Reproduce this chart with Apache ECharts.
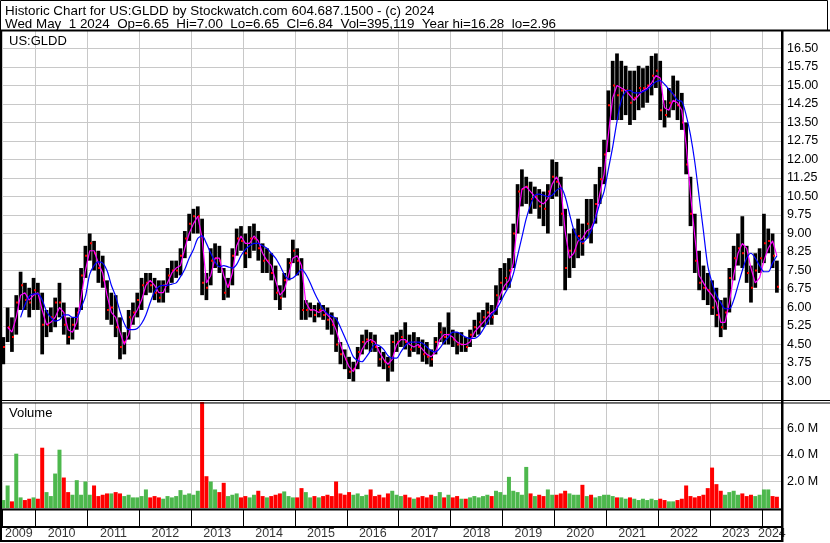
<!DOCTYPE html>
<html><head><meta charset="utf-8">
<script src="https://cdn.jsdelivr.net/npm/echarts@6/dist/echarts.min.js"></script>
<style>html,body{margin:0;padding:0;background:#fff}#c{width:830px;height:543px}</style>
</head><body><div id="c"></div>
<script>
// Monthly bars, May 2009 .. Apr 2024
const startYear = 2009, startMonth = 5;
const high = [
 4.8,6.0,5.6,6.5,7.45,7.0,6.8,7.2,
 7.0,6.6,5.9,6.0,6.4,7.0,6.2,5.6,5.6,6.0,7.6,8.5,
 9.0,8.7,8.3,8.1,7.1,6.6,6.5,5.6,5.0,5.9,6.2,6.6,
 7.2,7.4,7.4,7.2,7.1,7.1,7.6,7.9,7.9,8.4,9.1,9.8,
 10.0,10.1,9.6,7.4,8.4,8.6,8.5,7.6,7.2,8.4,9.2,9.3,
 9.0,9.3,9.4,9.1,8.6,8.4,8.2,7.7,6.9,7.4,8.0,8.75,
 8.4,8.0,6.3,6.2,6.1,6.2,6.1,6.0,5.8,5.6,4.6,4.3,
 4.0,3.8,4.4,4.9,5.1,5.0,4.9,4.4,4.2,4.0,4.9,5.0,
 5.1,5.4,4.9,5.0,4.8,4.7,4.6,4.3,4.8,5.4,5.2,5.8,
 5.1,5.0,5.0,4.8,5.1,5.5,5.8,5.9,6.2,6.1,6.9,7.6,
 7.8,8.0,9.4,11.0,11.6,11.3,11.1,10.9,10.8,10.7,11.0,12.0,
 11.9,11.3,10.0,9.0,9.2,9.6,9.4,10.4,10.4,11.0,11.7,12.8,
 14.8,16.0,16.3,16.0,15.8,15.6,15.6,15.8,15.7,15.8,16.2,16.3,
 16.0,14.4,14.9,15.4,15.2,14.7,13.5,11.3,9.8,8.3,7.7,7.4,
 7.1,6.8,6.3,6.4,7.6,8.5,9.0,9.7,8.5,7.7,8.2,8.4,
 9.8,9.2,9.0,7.9];
const low = [
 3.7,4.6,4.2,4.9,5.9,5.9,5.6,5.9,
 5.9,4.1,4.8,5.0,5.2,5.6,4.9,4.5,4.7,5.1,5.9,7.2,
 7.9,7.5,7.0,6.8,5.5,5.3,4.8,3.9,4.1,4.7,5.3,5.6,
 5.9,6.5,6.6,6.3,6.2,6.2,6.6,7.0,7.2,7.3,8.0,8.7,
 9.0,9.0,6.5,6.3,6.9,7.6,7.4,6.3,6.4,6.9,8.1,8.3,
 7.6,8.0,8.3,7.9,7.4,7.4,7.1,6.3,5.9,6.4,7.1,7.8,
 7.3,5.5,5.5,5.6,5.4,5.6,5.5,5.1,4.9,4.2,3.7,3.5,
 3.1,3.0,3.5,4.1,4.3,4.2,4.2,3.6,3.5,3.0,3.4,4.2,
 4.4,4.3,4.0,4.2,4.1,3.8,3.7,3.6,4.1,4.6,4.5,4.5,
 4.4,4.1,4.2,4.2,4.4,4.8,4.9,5.2,5.3,5.3,5.7,6.3,
 6.7,6.8,7.6,9.0,10.1,10.2,9.8,10.0,9.6,9.3,9.0,10.4,
 10.5,9.3,6.7,7.2,7.6,8.0,8.1,8.8,8.6,9.4,10.2,11.0,
 12.3,13.6,13.6,13.6,13.8,13.4,13.6,14.0,14.1,14.3,14.6,14.9,
 13.6,13.3,13.7,14.0,13.6,13.2,11.4,9.3,7.4,6.7,6.3,6.1,
 5.7,5.2,4.8,5.1,5.8,7.1,7.7,7.6,7.0,6.2,6.8,7.4,
 7.8,8.2,7.6,6.6];
const close = [
 4.4,5.2,4.8,6.2,6.9,6.3,6.2,6.7,
 6.5,5.3,5.3,5.6,6.2,6.2,5.3,4.8,5.3,5.8,7.3,8.1,
 8.6,8.2,7.6,7.1,5.9,6.0,5.2,4.4,4.6,5.6,5.8,6.3,
 6.9,7.0,6.9,6.6,6.4,6.9,7.3,7.5,7.5,8.1,8.8,9.4,
 9.7,9.7,7.0,6.8,7.9,8.0,7.9,6.6,6.9,8.1,8.8,8.7,
 8.2,8.8,8.8,8.4,7.9,7.9,7.4,6.6,6.4,7.1,7.8,8.3,
 7.9,5.9,5.9,5.9,5.7,5.9,5.7,5.5,5.3,4.5,4.1,3.9,
 3.4,3.5,4.2,4.6,4.7,4.6,4.4,3.9,3.8,3.6,4.6,4.6,
 4.8,4.6,4.3,4.6,4.4,4.1,4.0,3.9,4.6,5.0,4.8,4.9,
 4.7,4.5,4.5,4.4,4.9,5.2,5.4,5.6,5.8,5.6,6.5,7.0,
 7.2,7.5,9.0,10.7,10.8,10.9,10.4,10.5,10.1,10.0,10.7,11.3,
 11.1,9.8,7.6,8.3,8.3,8.9,8.6,9.4,9.2,10.2,11.2,12.2,
 14.2,15.0,14.6,14.8,14.8,14.3,14.5,14.9,14.9,15.0,15.4,15.6,
 14.0,13.8,14.3,14.6,14.2,13.5,11.8,9.8,7.9,7.0,6.8,6.7,
 6.0,5.7,5.2,5.8,7.2,8.0,8.4,8.2,7.4,6.8,7.5,8.0,
 8.6,8.7,8.1,6.84];
const maShort = [
 null,5.2,5.0,5.6,6.5,6.6,6.3,6.5,
 6.6,5.9,5.3,5.4,5.6,6.0,5.8,5.1,5.0,5.4,6.4,7.5,
 8.3,8.3,7.8,7.4,6.5,5.8,5.6,5.0,4.5,4.9,5.6,5.9,
 6.3,6.9,7.1,6.9,6.6,6.6,7.0,7.4,7.6,7.7,8.4,9.0,
 9.4,9.7,8.8,7.0,7.3,8.0,8.0,7.3,6.8,7.4,8.5,8.9,
 8.6,8.6,8.9,8.7,8.2,7.9,7.7,7.1,6.5,6.7,7.3,8.0,
 8.1,7.7,6.2,5.9,5.9,5.8,5.9,5.7,5.5,5.1,4.5,4.0,
 3.6,3.4,3.8,4.3,4.6,4.7,4.6,4.2,3.9,3.7,3.9,4.5,
 4.7,4.7,4.5,4.4,4.5,4.3,4.1,4.0,4.2,4.7,4.9,4.9,
 4.8,4.6,4.5,4.5,4.6,5.0,5.2,5.4,5.6,5.8,5.9,6.5,
 6.9,7.1,7.8,9.5,10.8,10.9,10.7,10.5,10.3,10.2,10.4,11.0,
 11.3,10.9,9.1,8.0,8.2,8.7,8.8,9.1,9.2,9.6,10.6,11.4,
 13.0,14.5,15.0,14.9,14.8,14.6,14.4,14.6,14.8,14.9,15.1,15.4,
 15.3,14.1,14.0,14.4,14.3,14.0,12.6,10.6,8.9,7.3,7.0,6.7,
 6.5,6.2,5.4,5.4,6.2,7.3,8.2,8.6,8.4,7.6,7.0,7.2,
 7.9,8.4,8.7,8.1];
const maLong = [
 null,null,null,null,5.6,6.1,6.45,6.55,
 6.55,6.3,5.85,5.6,5.45,5.5,5.7,5.7,5.6,5.6,6.0,6.45,
 7.35,7.7,7.85,7.8,7.5,6.9,6.45,5.85,5.35,5.1,5.1,5.15,
 5.35,5.7,6.2,6.65,6.85,6.9,6.9,6.95,7.0,7.25,7.55,8.0,
 8.35,8.8,8.9,8.6,8.2,7.85,7.65,7.7,7.65,7.6,7.75,8.1,
 8.35,8.5,8.6,8.6,8.5,8.4,8.2,8.0,7.7,7.35,7.15,7.2,
 7.35,7.55,7.35,7.0,6.6,6.25,5.95,5.75,5.65,5.55,5.2,4.8,
 4.4,4.0,3.85,3.8,4.0,4.25,4.5,4.45,4.3,4.05,3.95,3.95,
 4.2,4.45,4.6,4.6,4.6,4.55,4.4,4.25,4.2,4.35,4.6,4.8,
 5.0,5.0,4.9,4.8,4.75,4.75,4.85,5.1,5.4,5.7,5.9,6.2,
 6.55,6.85,7.35,8.1,8.85,9.6,10.15,10.55,10.6,10.55,10.5,10.55,
 10.75,10.85,10.5,9.8,9.15,8.8,8.65,8.8,9.1,9.6,10.2,10.7,
 11.6,12.5,13.55,14.4,14.75,14.8,14.7,14.7,14.75,14.85,15.0,15.15,
 15.2,15.05,14.85,14.65,14.4,14.35,13.8,13.0,11.9,10.5,9.1,7.7,
 7.0,6.5,6.2,5.95,5.95,6.3,6.9,7.5,8.0,8.2,8.0,7.7,
 7.45,7.45,7.8,8.1];
const volume = [ // millions of shares
 0.6,1.7,0.5,4.1,0.8,0.6,0.7,0.8,
 0.7,4.55,1.2,0.9,2.6,4.4,2.3,1.2,1.0,2.1,1.0,2.0,
 1.0,1.7,0.9,1.0,1.1,1.1,1.2,1.1,0.9,1.0,0.8,0.8,
 0.9,1.4,0.8,0.9,0.8,0.7,0.9,0.8,0.9,1.35,1.0,1.1,
 1.0,1.3,8.5,2.4,2.0,1.4,1.2,1.9,0.9,1.0,1.1,0.8,
 0.9,0.8,1.0,1.3,0.9,0.8,0.9,1.0,1.1,1.25,0.9,0.8,
 0.8,1.5,1.2,0.8,0.9,0.8,0.9,1.0,0.9,2.0,1.1,1.0,
 1.2,1.0,1.1,0.9,1.0,1.4,0.9,1.0,0.8,1.1,1.3,1.0,
 0.9,1.0,0.8,0.7,0.8,0.9,0.8,1.0,0.9,1.2,0.8,1.0,
 0.8,0.9,0.7,0.7,0.8,0.9,0.8,0.9,1.0,0.9,1.3,1.2,
 1.0,2.35,1.3,1.2,1.0,3.1,1.1,0.9,1.0,0.9,1.4,1.0,
 1.0,1.1,1.3,1.1,1.0,1.0,1.75,0.9,1.0,0.8,0.9,1.0,
 1.0,0.9,0.8,0.8,0.7,0.8,0.7,0.6,0.7,0.6,0.7,0.6,
 0.7,0.6,0.5,0.5,0.6,0.7,1.7,0.9,0.8,0.9,1.0,1.5,
 3.05,1.8,1.3,1.0,1.2,1.3,1.0,1.1,0.9,1.0,0.9,1.0,
 1.4,1.4,0.9,0.85];
const years = [2009,2010,2011,2012,2013,2014,2015,2016,2017,2018,2019,2020,2021,2022,2023,2024];
const priceTicks = {min: 2.25, max: 17.25, step: 0.75};
const volTicks = {min: 0, max: 8, step: 2};
const titleLine1 = 'Historic Chart for US:GLDD by Stockwatch.com 604.687.1500 - (c) 2024';
const titleLine2 = 'Wed May  1 2024  Op=6.65  Hi=7.00  Lo=6.65  Cl=6.84  Vol=395,119  Year hi=16.28  lo=2.96';
const symbolName = 'US:GLDD';

// ---- build ----
const xMin = 2009.35, xMax = 2024.39;
const xs = close.map((_, i) => startYear + (startMonth - 1 + i + 0.5) / 12);
const bars = xs.map((x, i) => [x, high[i], low[i], close[i]]);
const maS = xs.map((x, i) => [x, maShort[i]]);
const maL = xs.map((x, i) => [x, maLong[i]]);
const GREEN = '#4db84d', RED = '#ff0000';
const vol = xs.map((x, i) => ({
  value: [x, volume[i]],
  itemStyle: {color: (i === 0 || close[i] >= close[i - 1]) ? GREEN : RED}
}));
const yearLabels = years.map(y => {
  const lo = Math.max(y, xMin), hi = Math.min(y + 1, xMax);
  return {value: [(lo + hi) / 2, 0.5], name: String(y)};
});
const FONT = '"Liberation Sans", Arial, sans-serif';
const GRID = '#c8c8c8';

function xAxisCfg(idx, splitColor) {
  return {
    type: 'value', gridIndex: idx, min: xMin, max: xMax,
    splitNumber: 15, minInterval: 1, maxInterval: 1,
    axisLine: {show: false}, axisTick: {show: false}, axisLabel: {show: false},
    splitLine: {show: !!splitColor, lineStyle: {color: splitColor || GRID, width: 1}}
  };
}

const chart = echarts.init(document.getElementById('c'), null, {renderer: 'canvas'});
chart.setOption({
  animation: false,
  backgroundColor: '#ffffff',
  grid: [
    {left: 2, right: 48, top: 30, height: 370},
    {left: 2, right: 48, top: 402, height: 106},
    {left: 2, right: 48, top: 510, height: 17},
    {left: 2, right: 48, top: 527, height: 14}
  ],
  xAxis: [xAxisCfg(0, GRID), xAxisCfg(1, GRID), xAxisCfg(2, '#000'), xAxisCfg(3, null)],
  yAxis: [
    {type: 'value', gridIndex: 0, position: 'right', min: priceTicks.min, max: priceTicks.max, interval: priceTicks.step,
     axisLine: {show: false}, axisTick: {show: false},
     splitLine: {show: true, lineStyle: {color: GRID, width: 1}},
     axisLabel: {margin: 5, color: '#000', fontSize: 12.5, fontFamily: FONT,
       formatter: v => (v < 2.9 || v > 16.6) ? '' : v.toFixed(2)}},
    {type: 'value', gridIndex: 1, position: 'right', min: volTicks.min, max: volTicks.max, interval: volTicks.step,
     axisLine: {show: false}, axisTick: {show: false},
     splitLine: {show: true, lineStyle: {color: GRID, width: 1}},
     axisLabel: {margin: 5, color: '#000', fontSize: 12.5, fontFamily: FONT,
       formatter: v => (v > 0 && v < 8) ? v.toFixed(1) + ' M' : ''}},
    {type: 'value', gridIndex: 2, min: 0, max: 1, show: false},
    {type: 'value', gridIndex: 3, min: 0, max: 1, show: false}
  ],
  series: [
    {type: 'custom', xAxisIndex: 0, yAxisIndex: 0, data: bars, z: 3, clip: true,
     encode: {x: 0, y: [1, 2]},
     renderItem: (params, api) => {
       const x = api.value(0);
       const pH = api.coord([x, api.value(1)]);
       const pL = api.coord([x, api.value(2)]);
       const pC = api.coord([x, api.value(3)]);
       const w = api.size([1 / 12, 0])[0] - 0.6;
       return {type: 'group', children: [
         {type: 'rect', shape: {x: pH[0] - w / 2, y: pH[1], width: w, height: pL[1] - pH[1]}, style: {fill: '#000'}},
         {type: 'rect', shape: {x: Math.round(pC[0]), y: pC[1] - 1, width: 2, height: 2}, style: {fill: '#ff0000'}}
       ]};
     }},
    {type: 'line', xAxisIndex: 0, yAxisIndex: 0, data: maS, z: 4, showSymbol: false, symbol: 'none',
     lineStyle: {color: '#ff00ff', width: 1.2}, connectNulls: false},
    {type: 'line', xAxisIndex: 0, yAxisIndex: 0, data: maL, z: 5, showSymbol: false, symbol: 'none', smooth: 0.3,
     lineStyle: {color: '#0000ff', width: 1.2}, connectNulls: false},
    {type: 'bar', xAxisIndex: 1, yAxisIndex: 1, data: vol, barWidth: 4, z: 3, clip: true},
    {type: 'scatter', xAxisIndex: 3, yAxisIndex: 3, data: yearLabels, symbolSize: 0, z: 10,
     label: {show: true, position: 'inside', formatter: p => p.name, color: '#000', fontSize: 12.5, fontFamily: FONT}}
  ],
  graphic: [
    {type: 'rect', shape: {x: 0.5, y: 0.5, width: 827, height: 30}, style: {fill: 'none', stroke: '#000', lineWidth: 1}, z: 100},
    {type: 'rect', shape: {x: 0, y: 29.5, width: 830, height: 2}, style: {fill: '#000'}, z: 100},
    {type: 'rect', shape: {x: 0, y: 30, width: 2, height: 512}, style: {fill: '#000'}, z: 100},
    {type: 'rect', shape: {x: 781, y: 30, width: 2.5, height: 512}, style: {fill: '#000'}, z: 100},
    {type: 'rect', shape: {x: 0, y: 400, width: 830, height: 1}, style: {fill: '#000'}, z: 100},
    {type: 'rect', shape: {x: 0, y: 402.5, width: 830, height: 1}, style: {fill: '#000'}, z: 100},
    {type: 'rect', shape: {x: 0, y: 508.5, width: 782, height: 2}, style: {fill: '#000'}, z: 100},
    {type: 'rect', shape: {x: 0, y: 526, width: 782, height: 2}, style: {fill: '#000'}, z: 100},
    {type: 'rect', shape: {x: 0, y: 540, width: 782, height: 2}, style: {fill: '#000'}, z: 100},
    {type: 'text', x: 5, y: 11, style: {text: titleLine1, fill: '#000', fontSize: 13.4, fontFamily: FONT, verticalAlign: 'middle'}, z: 101},
    {type: 'text', x: 5, y: 24, style: {text: titleLine2, fill: '#000', fontSize: 13.4, fontFamily: FONT, verticalAlign: 'middle'}, z: 101},
    {type: 'text', x: 9, y: 41.5, style: {text: symbolName, fill: '#000', fontSize: 13, fontFamily: FONT, verticalAlign: 'middle'}, z: 101},
    {type: 'text', x: 9, y: 413, style: {text: 'Volume', fill: '#000', fontSize: 13, fontFamily: FONT, verticalAlign: 'middle'}, z: 101}
  ]
});
</script>
</body></html>
